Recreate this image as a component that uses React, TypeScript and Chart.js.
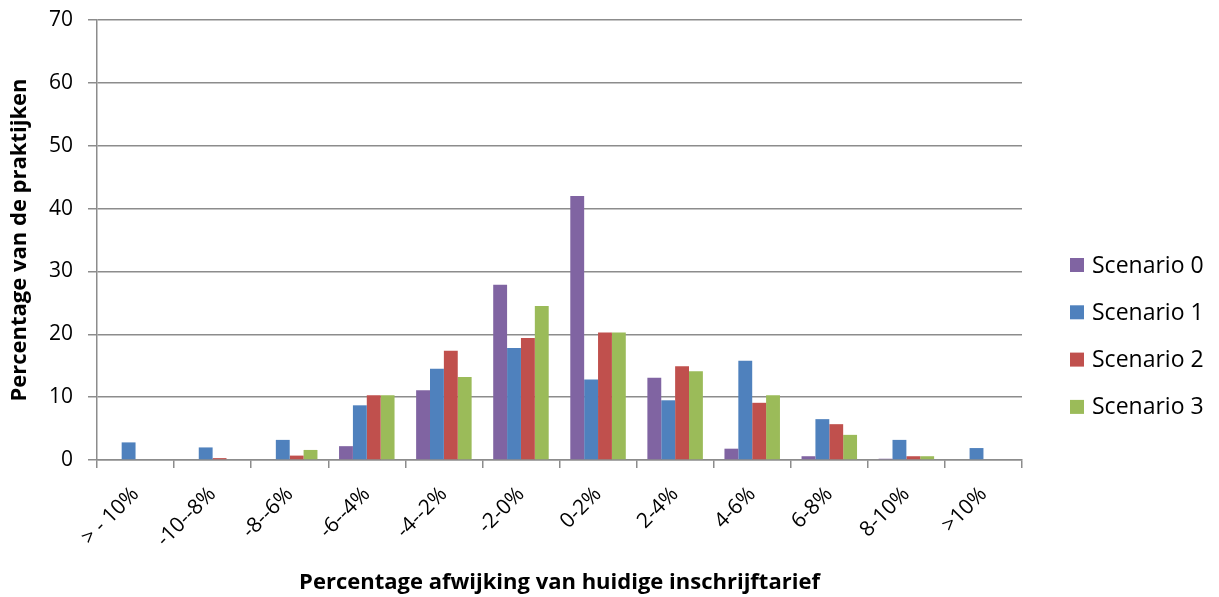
import React, { useEffect, useRef } from "react";
import { Chart, registerables } from "chart.js";

Chart.register(...registerables);

const categories = [
  "> - 10%", "-10--8%", "-8--6%", "-6--4%", "-4--2%", "-2-0%",
  "0-2%", "2-4%", "4-6%", "6-8%", "8-10%", ">10%",
];
const scenario0 = [0, 0, 0, 2.2, 11.1, 27.9, 42.0, 13.1, 1.8, 0.6, 0.2, 0];
const scenario1 = [2.8, 2.0, 3.2, 8.7, 14.5, 17.8, 12.8, 9.5, 15.8, 6.5, 3.2, 1.9];
const scenario2 = [0, 0.3, 0.7, 10.3, 17.4, 19.4, 20.3, 14.9, 9.1, 5.7, 0.6, 0];
const scenario3 = [0, 0, 1.6, 10.3, 13.2, 24.5, 20.3, 14.1, 10.3, 4.0, 0.6, 0];
const seriesNames = ["Scenario 0", "Scenario 1", "Scenario 2", "Scenario 3"];
const seriesColors = ["#8064A2", "#4F81BD", "#C0504D", "#9BBB59"];
const yTitle = "Percentage van de praktijken";
const xTitle = "Percentage afwijking van huidige inschrijftarief";

const FONT = "'Open Sans', Lato, sans-serif";
const GRID = "#8c8c8c";

const sideLegend = {
  id: "sideLegend",
  afterDraw(chart: any) {
    const ctx = chart.ctx;
    const x = chart.chartArea.right + 48;
    const y0 = 265;
    const step = 47.3;
    ctx.save();
    ctx.font = `23px ${FONT}`;
    ctx.textBaseline = "middle";
    ctx.textAlign = "left";
    chart.data.datasets.forEach((ds: any, i: number) => {
      const y = y0 + step * i;
      ctx.fillStyle = ds.backgroundColor;
      ctx.fillRect(x, y - 7, 14, 14);
      ctx.fillStyle = "#000";
      ctx.fillText(ds.label, x + 22, y + 1);
    });
    ctx.restore();
  },
};

export default function App() {
  const ref = useRef<HTMLCanvasElement | null>(null);
  useEffect(() => {
    document.body.style.margin = "0";
    if (!ref.current) return;
    const values = [scenario0, scenario1, scenario2, scenario3];
    const chart = new Chart(ref.current, {
      type: "bar",
      data: {
        labels: categories,
        datasets: values.map((v, i) => ({
          label: seriesNames[i],
          data: v,
          backgroundColor: seriesColors[i],
          borderWidth: 0,
          categoryPercentage: 0.72,
          barPercentage: 1,
        })),
      },
      plugins: [sideLegend],
      options: {
        animation: false,
        responsive: true,
        maintainAspectRatio: false,
        layout: { padding: { top: 20, right: 197, bottom: 0, left: 0 } },
        plugins: {
          tooltip: { enabled: false },
          legend: { display: false },
        },
        scales: {
          x: {
            offset: true,
            grid: {
              display: true,
              drawOnChartArea: false,
              drawTicks: true,
              tickLength: 8,
              offset: true,
              color: GRID,
              lineWidth: 1.5,
            },
            border: { display: true, color: GRID, width: 1.5 },
            ticks: {
              color: "#000",
              font: { family: FONT, size: 21 },
              minRotation: 45,
              maxRotation: 45,
              autoSkip: false,
              padding: 14,
            },
            title: {
              display: true,
              text: xTitle,
              color: "#000",
              font: { family: FONT, size: 22, weight: "bold" },
              padding: { top: 0, bottom: 1 },
            },
            afterFit: (s: any) => {
              s.height = 137;
              s.paddingLeft = 0;
              s.paddingRight = 0;
            },
          },
          y: {
            min: 0,
            max: 70,
            ticks: {
              stepSize: 10,
              color: "#000",
              font: { family: FONT, size: 21 },
              padding: 15,
            },
            grid: {
              color: GRID,
              lineWidth: 1.5,
              drawTicks: true,
              tickLength: 9,
            },
            border: { display: true, color: GRID, width: 1.5 },
            title: {
              display: true,
              text: yTitle,
              color: "#000",
              font: { family: FONT, size: 22, weight: "bold" },
              padding: { top: 7, bottom: 0 },
            },
            afterFit: (s: any) => {
              s.width = 97;
              s.paddingTop = 0;
              s.paddingBottom = 0;
            },
          },
        },
      },
    });
    return () => chart.destroy();
  }, []);
  return (
    <div style={{ width: 1219, height: 597, position: "relative" }}>
      <canvas ref={ref} />
    </div>
  );
}
